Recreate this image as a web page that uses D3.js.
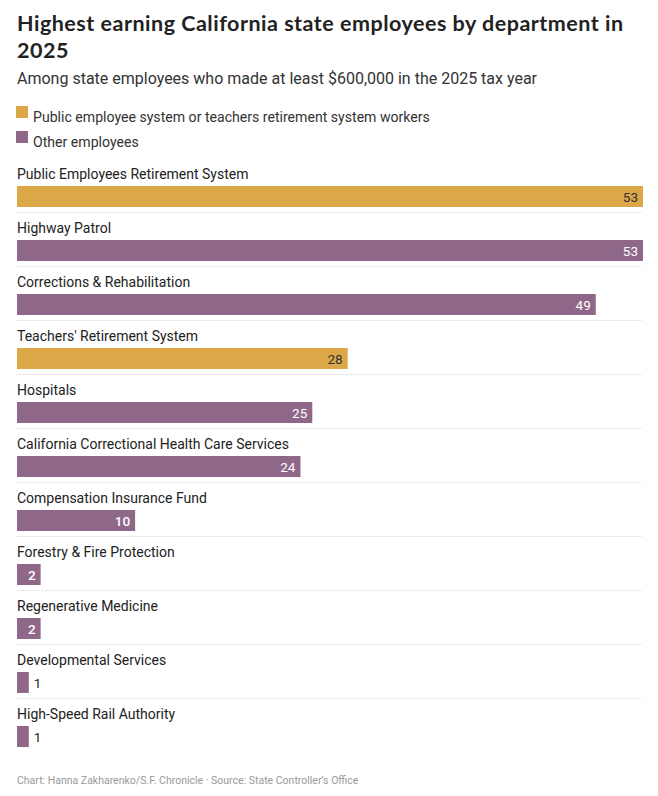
<!DOCTYPE html>
<html>
<head>
<meta charset="utf-8">
<script src="https://cdn.jsdelivr.net/npm/d3@7"></script>
<style>
  body { margin: 0; background: #fff; }
  text { font-family: Roboto, "Noto Sans", sans-serif; }
</style>
</head>
<body>
<div id="main"></div>
<script>
// chart data
const departments = [
    'Public Employees Retirement System',
    'Highway Patrol',
    'Corrections & Rehabilitation',
    "Teachers' Retirement System",
    'Hospitals',
    'California Correctional Health Care Services',
    'Compensation Insurance Fund',
    'Forestry & Fire Protection',
    'Regenerative Medicine',
    'Developmental Services',
    'High-Speed Rail Authority'
];
const employees = [53, 53, 49, 28, 25, 24, 10, 2, 2, 1, 1];
// true = public employee / teachers retirement system workers
const retirementSystem = [true, false, false, true, false, false, false, false, false, false, false];
const legendLabels = ['Public employee system or teachers retirement system workers', 'Other employees'];

const svgWidth = 658;
const svgHeight = 796;
const colors = { gold: '#dca847', purple: '#8f6889' };

const svg = d3.select('#main')
    .append('svg')
    .attr('width', svgWidth)
    .attr('height', svgHeight);

// title + subtitle
const title = svg.append('text')
    .attr('x', 17)
    .attr('y', 31)
    .attr('fill', '#222')
    .style('font-family', 'Lato, sans-serif')
    .style('font-weight', 700)
    .style('font-size', '21.5px')
    .style('letter-spacing', '0.5px');
title.append('tspan').attr('x', 17).text('Highest earning California state employees by department in');
title.append('tspan').attr('x', 17).attr('dy', 27).text('2025');

svg.append('text')
    .attr('x', 17)
    .attr('y', 84)
    .attr('fill', '#333')
    .style('font-size', '16px')
    .text('Among state employees who made at least $600,000 in the 2025 tax year');

// legend
const legend = svg.selectAll('.legend')
    .data(legendLabels)
    .enter()
    .append('g')
    .attr('class', 'legend')
    .attr('transform', (d, i) => `translate(16, ${106 + i * 25})`);
legend.append('rect')
    .attr('width', 12)
    .attr('height', 12)
    .attr('fill', (d, i) => i === 0 ? colors.gold : colors.purple);
legend.append('text')
    .attr('x', 17)
    .attr('y', 16)
    .attr('fill', '#333')
    .style('font-size', '14.1px')
    .text(d => d);

// scales
const xScale = d3.scaleLinear()
    .domain([0, d3.max(employees)])
    .range([17, 643]);

const yScale = d3.scaleBand()
    .domain(departments)
    .range([158, 158 + departments.length * 54])
    .paddingInner(0);

const barHeight = 21;
const barOffset = 28; // from top of row to top of bar

const rows = svg.selectAll('.row')
    .data(departments)
    .enter()
    .append('g')
    .attr('class', 'row')
    .attr('transform', d => `translate(0, ${yScale(d)})`);

rows.append('text')
    .attr('x', 17)
    .attr('y', barOffset - 7)
    .attr('fill', '#222')
    .style('font-size', '14px')
    .text(d => d);

rows.append('rect')
    .attr('x', xScale(0))
    .attr('y', barOffset)
    .attr('height', barHeight)
    .attr('width', (d, i) => xScale(employees[i]) - xScale(0))
    .attr('fill', (d, i) => retirementSystem[i] ? colors.gold : colors.purple);

// value labels: inside the bar when there is room, otherwise just after it
rows.append('text')
    .attr('x', (d, i) => employees[i] >= 2 ? xScale(employees[i]) - 5 : xScale(employees[i]) + 5)
    .attr('y', barOffset + 16)
    .attr('text-anchor', (d, i) => employees[i] >= 2 ? 'end' : 'start')
    .attr('fill', (d, i) => {
        if (employees[i] < 2) return '#222';
        return retirementSystem[i] ? '#333' : '#fff';
    })
    .style('font-size', '13.5px')
    .style('font-weight', (d, i) => employees[i] <= 10 && employees[i] >= 2 ? 500 : 400)
    .text((d, i) => employees[i]);

// dotted separators between rows
rows.filter((d, i) => i < departments.length - 1)
    .append('line')
    .attr('x1', 17)
    .attr('x2', 643)
    .attr('y1', barOffset + barHeight + 5.5)
    .attr('y2', barOffset + barHeight + 5.5)
    .attr('stroke', '#d8d8d8')
    .attr('stroke-dasharray', '1,1');

// footer
svg.append('text')
    .attr('x', 17)
    .attr('y', 784)
    .attr('fill', '#999')
    .style('font-size', '10.5px')
    .text('Chart: Hanna Zakharenko/S.F. Chronicle · Source: State Controller\u2019s Office');
</script>
</body>
</html>
